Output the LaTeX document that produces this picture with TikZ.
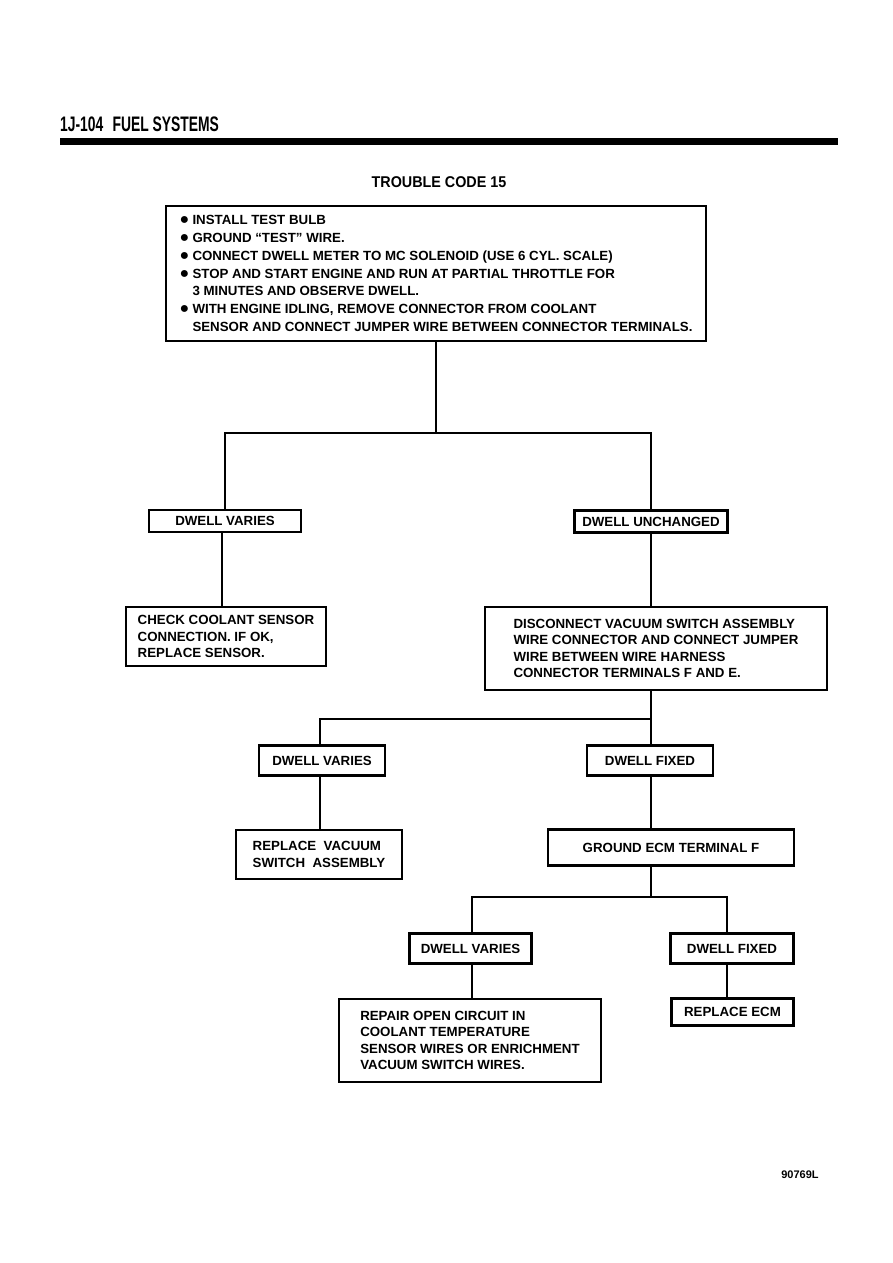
\documentclass[tikz,border=0pt]{standalone}
\usepackage{fontspec}
\usepackage{graphicx}
\setmainfont{Liberation Sans}
\usetikzlibrary{positioning}
\newcommand{\bul}{\makebox[13pt][l]{{\fontsize{16}{16}\selectfont ●}}}
\newcommand{\ind}{\hspace*{13pt}}

\begin{document}
\begin{tikzpicture}[
  x=1pt, y=-1pt,
  every node/.style={font=\bfseries\fontsize{13.3}{16.5}\selectfont},
  boxnode/.style={draw, line width=2.7pt, inner sep=0pt, align=left},
  dwellnode/.style={draw, line width=2.7pt, inner sep=0pt, align=center},
  wire/.style={line width=2.9pt},
]
\useasboundingbox (0,0) rectangle (893,1263);

% Page header
\node[font=\bfseries\fontsize{21}{21}\selectfont, anchor=south west, inner sep=0pt] (hdr) at (60,132) {\scalebox{0.66}[1]{1J-104\hspace{14pt}FUEL SYSTEMS}};
\fill (60,138) rectangle (838,145);
\node[font=\bfseries\fontsize{15.6}{15.6}\selectfont] (title) at (439,182) {\scalebox{0.92}[1]{TROUBLE CODE 15}};

% Test steps
\node[boxnode, font=\bfseries\fontsize{13.3}{17.8}\selectfont, minimum width=540pt, minimum height=135pt] (start) at (436,273.5) {%
\bul INSTALL TEST BULB\\
\bul GROUND “TEST” WIRE.\\
\bul CONNECT DWELL METER TO MC SOLENOID (USE 6 CYL. SCALE)\\
\bul STOP AND START ENGINE AND RUN AT PARTIAL THROTTLE FOR\\
\ind 3 MINUTES AND OBSERVE DWELL.\\
\bul WITH ENGINE IDLING, REMOVE CONNECTOR FROM COOLANT\\
\ind SENSOR AND CONNECT JUMPER WIRE BETWEEN CONNECTOR TERMINALS.};

% First branch
\node[dwellnode, minimum width=152pt, minimum height=22pt] (varyA) at (225,521) {DWELL VARIES};
\node[dwellnode, minimum width=153pt, minimum height=22pt] (unchA) at (651,521.5) {DWELL UNCHANGED};
\node[boxnode, minimum width=200pt, minimum height=59pt] (checkcool) at (226,636.5) {CHECK COOLANT SENSOR\\CONNECTION. IF OK,\\REPLACE SENSOR.};
\node[boxnode, minimum width=342pt, minimum height=83pt] (discvac) at (656,648.5) {DISCONNECT VACUUM SWITCH ASSEMBLY\\WIRE CONNECTOR AND CONNECT JUMPER\\WIRE BETWEEN WIRE HARNESS\\CONNECTOR TERMINALS F AND E.};

% Second branch
\node[dwellnode, minimum width=126pt, minimum height=30pt] (varyB) at (322,760.5) {DWELL VARIES};
\node[dwellnode, minimum width=126pt, minimum height=30pt] (fixedB) at (650,760.5) {DWELL FIXED};
\node[boxnode, minimum width=166pt, minimum height=49pt] (replvac) at (319,854.5) {REPLACE\ \ VACUUM\\SWITCH\ \ ASSEMBLY};
\node[dwellnode, minimum width=246pt, minimum height=36pt] (gndecm) at (671,847.5) {GROUND ECM TERMINAL F};

% Third branch
\node[dwellnode, minimum width=122pt, minimum height=30pt] (varyC) at (470.5,948.5) {DWELL VARIES};
\node[dwellnode, minimum width=123pt, minimum height=30pt] (fixedC) at (732,948.5) {DWELL FIXED};
\node[boxnode, minimum width=262pt, minimum height=83pt] (repair) at (470,1040.5) {REPAIR OPEN CIRCUIT IN\\COOLANT TEMPERATURE\\SENSOR WIRES OR ENRICHMENT\\VACUUM SWITCH WIRES.};
\node[dwellnode, minimum width=122pt, minimum height=27pt] (replecm) at (732.5,1012) {REPLACE ECM};

\node[font=\bfseries\fontsize{11}{11}\selectfont] (fig) at (800,1175) {90769L};

% Connectors
\coordinate (j1) at (436,433);
\coordinate (j2) at (651,719);
\coordinate (j3) at (651,897);
\coordinate (j3r) at (727,897);
\draw[wire] (start) -- (j1);
\draw[wire] (varyA) |- (j1) -| (unchA);
\draw[wire] (varyA.south -| 222,0) -- (checkcool.north -| 222,0);
\draw[wire] (unchA) -- (unchA |- discvac.north);
\draw[wire] (discvac.south -| j2) -- (j2);
\draw[wire] (varyB.north -| 320,0) |- (j2) -- (j2 |- fixedB.north);
\draw[wire] (varyB.south -| 320,0) -- (replvac.north -| 320,0);
\draw[wire] (fixedB.south -| j2) -- (gndecm.north -| j2);
\draw[wire] (gndecm.south -| j3) -- (j3);
\draw[wire] (varyC.north -| 472,0) |- (j3) -| (fixedC.north -| j3r);
\draw[wire] (varyC.south -| 472,0) -- (repair.north -| 472,0);
\draw[wire] (fixedC.south -| j3r) -- (replecm.north -| j3r);

\end{tikzpicture}
\end{document}
